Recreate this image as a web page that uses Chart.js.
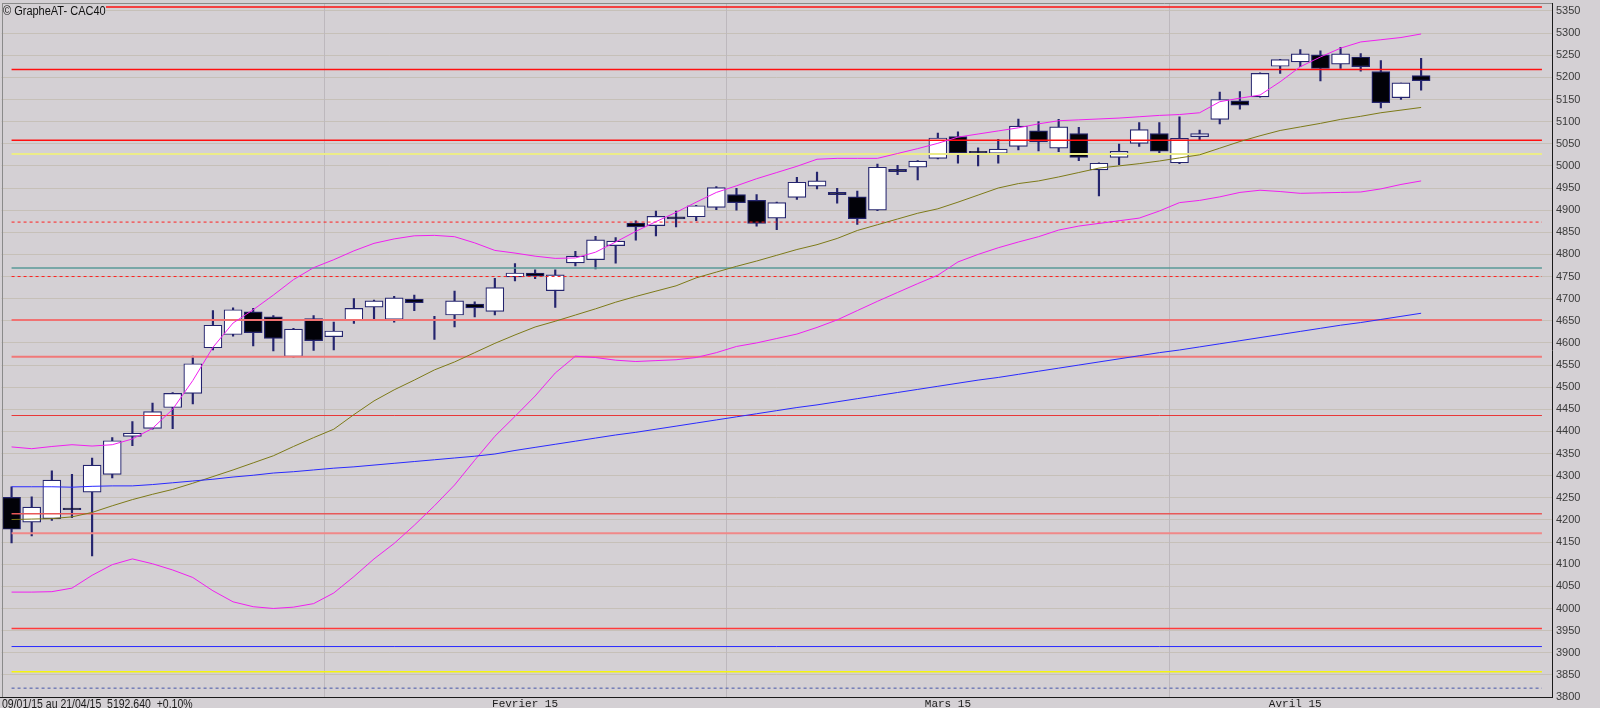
<!DOCTYPE html>
<html>
<head>
<meta charset="utf-8">
<style>
  html, body { margin: 0; padding: 0; background: #d4d0d4; }
</style>
</head>
<body>
<canvas id="cac40_chart" width="1600" height="708"></canvas>

<script src="https://cdn.jsdelivr.net/npm/chart.js"></script>
<script>

    // trading days 09/01/15 -> 21/04/15, then a few empty slots where the level lines run on
    const dates = [
        '09/01','12/01','13/01','14/01','15/01','16/01','19/01','20/01','21/01','22/01','23/01','26/01','27/01','28/01','29/01','30/01',
        '02/02','03/02','04/02','05/02','06/02','09/02','10/02','11/02','12/02','13/02','16/02','17/02','18/02','19/02','20/02','23/02','24/02','25/02','26/02','27/02',
        '02/03','03/03','04/03','05/03','06/03','09/03','10/03','11/03','12/03','13/03','16/03','17/03','18/03','19/03','20/03','23/03','24/03','25/03','26/03','27/03','30/03','31/03',
        '01/04','02/04','07/04','08/04','09/04','10/04','13/04','14/04','15/04','16/04','17/04','20/04','21/04',
        '22/04','23/04','24/04','27/04','28/04','29/04'
    ]

    const opens = [
        4251, 4195, 4203, 4227, 4263, 4303, 4389, 4407, 4454, 4486,
        4589, 4619, 4670, 4659, 4569, 4655, 4614, 4651, 4681, 4653,
        4699, 4635, 4663, 4688, 4671, 4749, 4758, 4718, 4781, 4788,
        4820, 4871, 4865, 4885, 4885, 4906, 4935, 4922, 4882, 4929,
        4954, 4940, 4930, 4900, 4992, 4997, 5017, 5066, 5033, 5028,
        5044, 5079, 5040, 5073, 4991, 5019, 5051, 5073, 5007, 5066,
        5105, 5147, 5156, 5225, 5235, 5251, 5230, 5246, 5213, 5154,
        5204
    ]
    const highs = [
        4275, 4252, 4311, 4303, 4340, 4386, 4422, 4464, 4488, 4570,
        4673, 4679, 4678, 4662, 4633, 4662, 4647, 4700, 4697, 4705,
        4708, 4660, 4717, 4693, 4746, 4779, 4765, 4765, 4807, 4841,
        4838, 4876, 4898, 4898, 4911, 4953, 4949, 4935, 4918, 4974,
        4986, 4949, 4943, 5004, 5001, 5012, 5074, 5077, 5041, 5060,
        5106, 5100, 5105, 5087, 5007, 5049, 5098, 5098, 5111, 5081,
        5167, 5168, 5210, 5241, 5263, 5260, 5268, 5254, 5238, 5187,
        5243
    ]
    const lows = [
        4148, 4164, 4199, 4205, 4119, 4295, 4368, 4405, 4406, 4462,
        4584, 4615, 4593, 4582, 4568, 4583, 4584, 4644, 4653, 4647,
        4673, 4608, 4636, 4659, 4663, 4740, 4745, 4680, 4774, 4767,
        4780, 4832, 4842, 4862, 4876, 4901, 4900, 4864, 4856, 4924,
        4948, 4916, 4868, 4899, 4980, 4968, 5016, 5006, 5000, 5006,
        5036, 5034, 5032, 5012, 4932, 5003, 5044, 5028, 5005, 5058,
        5095, 5128, 5155, 5209, 5224, 5192, 5220, 5214, 5131, 5150,
        5171
    ]
    const closes = [
        4179, 4229, 4290, 4223, 4324, 4379, 4396, 4445, 4486, 4553,
        4640, 4675, 4623, 4610, 4631, 4605, 4627, 4678, 4695, 4702,
        4691, 4635, 4695, 4679, 4725, 4758, 4751, 4754, 4796, 4833,
        4830, 4862, 4886, 4880, 4910, 4951, 4917, 4870, 4917, 4963,
        4966, 4935, 4881, 4997, 4987, 5011, 5063, 5029, 5030, 5038,
        5090, 5054, 5088, 5019, 5006, 5033, 5082, 5033, 5062, 5073,
        5150, 5137, 5209, 5240, 5253, 5220, 5253, 5224, 5143, 5187.5,
        5192.64
    ]

    // indicator curves, one value per trading day
    const bollUpper = [
        4365, 4361, 4366, 4370, 4367, 4370, 4383, 4407, 4450, 4515,
        4590, 4645, 4675, 4708, 4743, 4770, 4788, 4808, 4825, 4835,
        4842, 4843, 4840, 4826, 4809, 4803, 4796, 4791, 4792, 4805,
        4828, 4852, 4874, 4895, 4918, 4940, 4955, 4971, 4985, 4999,
        5015, 5017, 5017, 5017, 5028, 5039, 5051, 5065, 5072, 5079,
        5086, 5095, 5102, 5104, 5106, 5108, 5111, 5114, 5116, 5120,
        5145, 5153, 5160, 5190, 5224, 5246, 5266, 5280, 5285, 5290,
        5298
    ]
    const bollLower = [
        4037, 4037, 4038, 4046, 4075, 4099, 4112, 4101, 4087, 4070,
        4040, 4015, 4004, 4000, 4003, 4011, 4035, 4072, 4112, 4147,
        4188, 4232, 4279, 4335, 4389, 4434, 4480, 4532, 4570, 4567,
        4561, 4558, 4560, 4562, 4567, 4578, 4592, 4600, 4610, 4620,
        4635, 4652, 4673, 4694, 4714, 4734, 4753, 4783, 4800, 4815,
        4828, 4840, 4855, 4864, 4870, 4876, 4882, 4898, 4917, 4922,
        4930, 4940, 4945, 4942, 4938, 4939, 4940, 4941, 4948, 4958,
        4966
    ]
    const maShort = [
        4201, 4202, 4203, 4207, 4217, 4232, 4246, 4258, 4269, 4283,
        4298, 4313, 4329, 4345, 4366, 4386, 4405, 4438, 4469, 4494,
        4516, 4539, 4557, 4578, 4599, 4618, 4636, 4649, 4663, 4677,
        4692, 4705, 4717, 4729, 4747, 4760, 4773, 4785, 4798, 4811,
        4822, 4836, 4854, 4867, 4880, 4893, 4903, 4918, 4934, 4950,
        4960, 4966, 4975, 4985, 4995, 5000, 5005, 5011, 5018, 5025,
        5040, 5055, 5068, 5080, 5088, 5096, 5105, 5112, 5120, 5126,
        5132
    ]
    const maLong = [
        4275, 4275, 4275, 4274, 4276, 4277, 4277, 4280, 4284, 4288,
        4292, 4297, 4301, 4306, 4309, 4313, 4317, 4320, 4324, 4328,
        4332, 4336, 4340, 4344, 4349, 4357, 4364, 4371, 4378, 4385,
        4392, 4398, 4405, 4412, 4419, 4426, 4433, 4440, 4447, 4454,
        4460, 4467, 4474, 4481, 4488, 4495, 4502, 4509, 4516, 4522,
        4529, 4536, 4543, 4550, 4557, 4564, 4571, 4578, 4584, 4591,
        4598, 4605, 4612, 4619, 4626, 4633, 4640, 4646, 4653, 4660,
        4667
    ]

    // horizontal support / resistance levels
    const levelValues = [5359, 5218, 5058, 5027, 4873, 4769, 4750, 4652, 4569, 4436, 4214, 4170, 3955, 3914, 3857, 3820]
    const levelStyles = [
        { color: '#ff1010', width: 1.5 },
        { color: '#ff1010', width: 1.5 },
        { color: '#ff1010', width: 1.5 },
        { color: '#ecec88', width: 2 },
        { color: '#ff2020', width: 1, dash: [3, 3] },
        { color: '#5a9a98', width: 1.5 },
        { color: '#ff2020', width: 1, dash: [3, 3] },
        { color: '#f07272', width: 2 },
        { color: '#f07878', width: 2 },
        { color: '#e83838', width: 1 },
        { color: '#e85858', width: 1.5 },
        { color: '#f08888', width: 2 },
        { color: '#ff3a3a', width: 1.5 },
        { color: '#2a2aff', width: 1 },
        { color: '#f4f410', width: 1.5 },
        { color: '#4454a8', width: 1, dash: [3, 3] },
    ]

    const yTicks = [
        3800, 3850, 3900, 3950, 4000, 4050, 4100, 4150, 4200, 4250, 4300, 4350, 4400, 4450, 4500, 4550,
        4600, 4650, 4700, 4750, 4800, 4850, 4900, 4950, 5000, 5050, 5100, 5150, 5200, 5250, 5300, 5350
    ]
    const monthLabels = ['Fevrier 15', 'Mars 15', 'Avril 15']
    const monthStarts = ['02/02', '02/03', '01/04']
    const titleText = '\u00a9 GrapheAT- CAC40'
    const footerText = '09/01/15 au 21/04/15  5192.640  +0.10%'

    const BG = '#d4d0d4'
    const NAVY = '#24246e'

    const levelSets = levelValues.map((v, i) => ({
        type: 'line',
        data: [{ x: dates[0], y: v }, { x: dates[dates.length - 1], y: v }],
        borderColor: levelStyles[i].color,
        borderWidth: levelStyles[i].width,
        borderDash: levelStyles[i].dash || [],
        pointRadius: 0,
        order: 10
    }))

    function curve(values, color){
        return {
            type: 'line',
            data: values,
            borderColor: color,
            borderWidth: 1,
            pointRadius: 0,
            tension: 0,
            order: 1
        }
    }

    // draw text squeezed horizontally (the original uses a narrow face)
    function narrowText(c, text, x, y, squeeze){
        c.save()
        c.translate(x, y)
        c.scale(squeeze, 1)
        c.fillText(text, 0, 0)
        c.restore()
    }

    const chartDecor = {
        id: 'chartDecor',
        beforeDraw(chart){
            const c = chart.ctx
            c.save()
            c.fillStyle = BG
            c.fillRect(0, 0, chart.width, chart.height)
            c.restore()
        },
        beforeDatasetsDraw(chart){
            const c = chart.ctx, x = chart.scales.x, a = chart.chartArea
            c.save()
            c.strokeStyle = '#bdb8bd'
            c.lineWidth = 1
            monthStarts.forEach(d => {
                const i = dates.indexOf(d)
                const px = Math.round((x.getPixelForValue(i - 1) + x.getPixelForValue(i)) / 2) + 0.5
                c.beginPath()
                c.moveTo(px, a.top)
                c.lineTo(px, a.bottom)
                c.stroke()
            })
            c.restore()
        },
        afterDraw(chart){
            const c = chart.ctx, x = chart.scales.x, a = chart.chartArea
            c.save()

            // title box over the top level line
            c.fillStyle = BG
            c.fillRect(3, 4, 103, 13)
            c.fillStyle = '#111111'
            c.font = "12.5px 'Liberation Sans', sans-serif"
            c.textBaseline = 'alphabetic'
            c.textAlign = 'left'
            narrowText(c, titleText, 3, 15, 0.88)

            // frame
            c.lineWidth = 1
            c.strokeStyle = '#8a8a8a'
            c.beginPath()
            c.moveTo(2.5, a.top); c.lineTo(2.5, a.bottom)
            c.moveTo(2.5, 3.5); c.lineTo(a.right, 3.5)
            c.stroke()
            c.strokeStyle = '#1a1a1a'
            c.beginPath()
            c.moveTo(Math.round(a.right) + 0.5, 3); c.lineTo(Math.round(a.right) + 0.5, a.bottom + 1)
            c.moveTo(0, Math.round(a.bottom) + 0.5); c.lineTo(a.right, Math.round(a.bottom) + 0.5)
            c.stroke()

            // month names centred on their span
            const bounds = monthStarts.map(d => {
                const i = dates.indexOf(d)
                return (x.getPixelForValue(i - 1) + x.getPixelForValue(i)) / 2
            })
            bounds.push(x.getPixelForValue(closes.length - 1))
            c.fillStyle = '#1a1a1a'
            c.font = "11px 'Liberation Mono', monospace"
            c.textAlign = 'center'
            c.textBaseline = 'top'
            monthLabels.forEach((m, k) => {
                c.fillText(m, (bounds[k] + bounds[k + 1]) / 2, 699)
            })

            c.textAlign = 'left'
            c.font = "12px 'Liberation Sans', sans-serif"
            narrowText(c, footerText, 2, 699, 0.875)
            c.restore()
        }
    }

    const cac40_chart = new Chart(document.getElementById('cac40_chart'), {
        type: 'bar',
        data: {
            labels: dates,
            datasets: [
                {
                    label: 'Range',
                    data: lows.map((l, i) => [l, highs[i]]),
                    backgroundColor: NAVY,
                    barThickness: 1.5,
                    grouped: false,
                    order: 30
                },
                {
                    label: 'Body',
                    data: opens.map((o, i) => [o, closes[i]]),
                    backgroundColor: closes.map((cl, i) => cl < opens[i] ? '#020208' : '#ffffff'),
                    borderColor: NAVY,
                    borderWidth: 1.2,
                    borderSkipped: false,
                    barThickness: 18,
                    grouped: false,
                    order: 29
                },
                ...levelSets,
                curve(maLong, '#2a2aff'),
                curve(maShort, '#7d7a18'),
                curve(bollUpper, '#f020f0'),
                curve(bollLower, '#f020f0'),
            ]
        },
        options: {
            responsive: false,
            animation: false,
            events: [],
            devicePixelRatio: 1,
            layout: {
                padding: { left: 1.5, top: 3, right: 0, bottom: 11 }
            },
            plugins: {
                legend: { display: false },
                tooltip: { enabled: false }
            },
            scales: {
                x: {
                    display: false,
                    offset: true
                },
                y: {
                    position: 'right',
                    min: 3800,
                    max: 5368,
                    afterBuildTicks: (scale) => {
                        scale.ticks = yTicks.map(v => ({ value: v }))
                    },
                    afterFit: (scale) => {
                        scale.width = 48
                        scale.paddingTop = 0
                        scale.paddingBottom = 0
                    },
                    border: { display: false },
                    grid: {
                        color: '#c6c0b8',
                        lineWidth: 1,
                        drawTicks: false
                    },
                    ticks: {
                        padding: 4,
                        color: '#3a3a3a',
                        autoSkip: false,
                        callback: (value) => String(value),
                        font: { family: "'Liberation Sans', sans-serif", size: 11 }
                    }
                }
            }
        },
        plugins: [chartDecor]
    });
</script>
</body>
</html>
